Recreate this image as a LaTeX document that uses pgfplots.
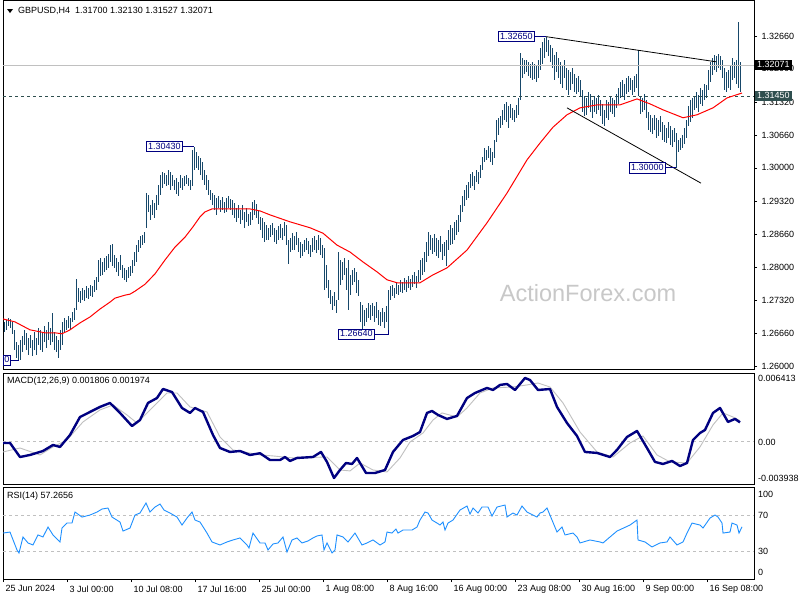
\documentclass[border=0pt]{standalone}
\usepackage{fontspec}
\setmainfont{Liberation Sans}
\usepackage{pgfplots}
\usepackage{pgfplotstable}
\pgfplotsset{compat=1.18}

\definecolor{barc}{HTML}{17486A}
\definecolor{navyc}{HTML}{000080}
\definecolor{sigc}{HTML}{C0C0C0}
\definecolor{rsic}{HTML}{1E90FF}
\definecolor{slate}{HTML}{2F4F4F}
\definecolor{wm}{HTML}{C8C8C8}
\newcommand\sm{\fontsize{9bp}{11bp}\selectfont}

% H4 bars: x (pixel column), low, high
\pgfplotstableread{
x lo hi
4 1.2669 1.2689
6 1.2673 1.2693
8 1.2681 1.2697
10 1.2677 1.2695
12 1.2665 1.2689
14 1.2632 1.2673
16 1.2616 1.2648
18 1.2612 1.2642
20 1.2612 1.2652
22 1.2628 1.2661
24 1.2642 1.2673
26 1.2632 1.2667
28 1.2622 1.2657
30 1.2636 1.2663
32 1.2620 1.2652
34 1.2632 1.2669
36 1.2622 1.2657
38 1.2642 1.2677
40 1.2632 1.2673
42 1.2628 1.2667
44 1.2648 1.2681
46 1.2636 1.2673
48 1.2652 1.2689
50 1.2642 1.2677
52 1.2648 1.2707
54 1.2632 1.2669
56 1.2628 1.2661
58 1.2616 1.2652
60 1.2632 1.2673
62 1.2642 1.2689
64 1.2669 1.2697
66 1.2673 1.2693
68 1.2677 1.2701
70 1.2673 1.2697
72 1.2689 1.2709
74 1.2693 1.2717
76 1.2713 1.2776
78 1.2729 1.2757
80 1.2727 1.2751
82 1.2733 1.2757
84 1.2731 1.2753
86 1.2737 1.2761
88 1.2735 1.2757
90 1.2741 1.2763
92 1.2739 1.2761
94 1.2749 1.2774
96 1.2753 1.2780
98 1.2770 1.2814
100 1.2782 1.2818
102 1.2784 1.2810
104 1.2790 1.2818
106 1.2794 1.2822
108 1.2798 1.2826
110 1.2810 1.2844
112 1.2802 1.2846
114 1.2798 1.2824
116 1.2790 1.2818
118 1.2782 1.2810
120 1.2794 1.2824
122 1.2778 1.2804
124 1.2774 1.2798
126 1.2770 1.2794
128 1.2778 1.2800
130 1.2782 1.2802
132 1.2788 1.2814
134 1.2802 1.2830
136 1.2810 1.2844
138 1.2830 1.2854
140 1.2838 1.2862
142 1.2844 1.2864
144 1.2848 1.2870
146 1.2879 1.2949
148 1.2911 1.2945
150 1.2895 1.2925
152 1.2905 1.2935
154 1.2899 1.2929
156 1.2915 1.2945
158 1.2925 1.2965
160 1.2945 1.2985
162 1.2959 1.2992
164 1.2967 1.2990
166 1.2963 1.2985
168 1.2965 1.2996
170 1.2955 1.2992
172 1.2963 1.2985
174 1.2955 1.2975
176 1.2947 1.2979
178 1.2943 1.2971
180 1.2959 1.2985
182 1.2955 1.2979
184 1.2963 1.2983
186 1.2967 1.2985
188 1.2963 1.2979
190 1.2955 1.2975
192 1.2963 1.3036
194 1.2996 1.3043
196 1.3000 1.3032
198 1.2996 1.3024
200 1.2985 1.3020
202 1.2975 1.3012
204 1.2965 1.2996
206 1.2955 1.2985
208 1.2945 1.2975
210 1.2935 1.2955
212 1.2925 1.2949
214 1.2915 1.2945
216 1.2905 1.2939
218 1.2919 1.2943
220 1.2911 1.2935
222 1.2915 1.2941
224 1.2909 1.2931
226 1.2911 1.2939
228 1.2919 1.2943
230 1.2915 1.2937
232 1.2905 1.2935
234 1.2899 1.2929
236 1.2891 1.2919
238 1.2899 1.2925
240 1.2887 1.2915
242 1.2895 1.2925
244 1.2879 1.2911
246 1.2891 1.2919
248 1.2883 1.2907
250 1.2885 1.2911
252 1.2895 1.2931
254 1.2905 1.2935
256 1.2899 1.2927
258 1.2887 1.2915
260 1.2874 1.2901
262 1.2858 1.2899
264 1.2850 1.2891
266 1.2854 1.2885
268 1.2854 1.2879
270 1.2860 1.2885
272 1.2864 1.2889
274 1.2850 1.2879
276 1.2846 1.2874
278 1.2854 1.2883
280 1.2858 1.2887
282 1.2854 1.2879
284 1.2862 1.2891
286 1.2844 1.2885
288 1.2806 1.2854
290 1.2830 1.2858
292 1.2834 1.2868
294 1.2834 1.2862
296 1.2844 1.2870
298 1.2830 1.2858
300 1.2818 1.2850
302 1.2822 1.2846
304 1.2830 1.2854
306 1.2834 1.2858
308 1.2826 1.2852
310 1.2820 1.2844
312 1.2830 1.2858
314 1.2834 1.2862
316 1.2828 1.2854
318 1.2834 1.2864
320 1.2824 1.2858
322 1.2818 1.2844
324 1.2753 1.2838
326 1.2757 1.2804
328 1.2737 1.2774
330 1.2725 1.2753
332 1.2713 1.2741
334 1.2721 1.2749
336 1.2707 1.2733
338 1.2733 1.2830
340 1.2763 1.2814
342 1.2774 1.2810
344 1.2784 1.2818
346 1.2753 1.2798
348 1.2713 1.2814
350 1.2743 1.2784
352 1.2763 1.2794
354 1.2770 1.2798
356 1.2747 1.2790
358 1.2741 1.2774
360 1.2689 1.2729
362 1.2664 1.2723
364 1.2681 1.2713
366 1.2689 1.2717
368 1.2697 1.2727
370 1.2693 1.2723
372 1.2701 1.2727
374 1.2689 1.2721
376 1.2697 1.2729
378 1.2683 1.2713
380 1.2681 1.2709
382 1.2689 1.2717
384 1.2677 1.2709
386 1.2689 1.2721
388 1.2673 1.2753
390 1.2733 1.2761
392 1.2741 1.2763
394 1.2737 1.2757
396 1.2745 1.2768
398 1.2743 1.2763
400 1.2749 1.2774
402 1.2747 1.2770
404 1.2753 1.2778
406 1.2749 1.2774
408 1.2757 1.2782
410 1.2753 1.2776
412 1.2759 1.2784
414 1.2765 1.2790
416 1.2757 1.2782
418 1.2770 1.2794
420 1.2774 1.2814
422 1.2784 1.2818
424 1.2790 1.2830
426 1.2810 1.2850
428 1.2822 1.2870
430 1.2834 1.2864
432 1.2826 1.2858
434 1.2830 1.2866
436 1.2822 1.2858
438 1.2818 1.2854
440 1.2830 1.2862
442 1.2814 1.2846
444 1.2822 1.2850
446 1.2802 1.2854
448 1.2834 1.2874
450 1.2844 1.2885
452 1.2846 1.2879
454 1.2854 1.2891
456 1.2864 1.2895
458 1.2870 1.2905
460 1.2891 1.2925
462 1.2911 1.2943
464 1.2923 1.2955
466 1.2935 1.2965
468 1.2939 1.2971
470 1.2959 1.2987
472 1.2963 1.2992
474 1.2955 1.2983
476 1.2971 1.2996
478 1.2967 1.2992
480 1.2979 1.3006
482 1.2996 1.3022
484 1.3012 1.3040
486 1.3016 1.3036
488 1.3020 1.3044
490 1.3012 1.3040
492 1.3006 1.3032
494 1.3020 1.3056
496 1.3052 1.3096
498 1.3066 1.3101
500 1.3080 1.3105
502 1.3086 1.3117
504 1.3096 1.3129
506 1.3092 1.3133
508 1.3080 1.3125
510 1.3101 1.3129
512 1.3096 1.3121
514 1.3092 1.3117
516 1.3101 1.3127
518 1.3107 1.3141
520 1.3137 1.3232
522 1.3181 1.3222
524 1.3189 1.3218
526 1.3193 1.3218
528 1.3185 1.3214
530 1.3181 1.3209
532 1.3177 1.3214
534 1.3179 1.3209
536 1.3173 1.3205
538 1.3181 1.3218
540 1.3197 1.3242
542 1.3209 1.3254
544 1.3222 1.3262
546 1.3234 1.3265
548 1.3226 1.3258
550 1.3214 1.3248
552 1.3201 1.3242
554 1.3177 1.3228
556 1.3193 1.3234
558 1.3181 1.3222
560 1.3169 1.3214
562 1.3161 1.3205
564 1.3181 1.3218
566 1.3157 1.3201
568 1.3147 1.3197
570 1.3157 1.3193
572 1.3169 1.3201
574 1.3153 1.3189
576 1.3149 1.3181
578 1.3153 1.3185
580 1.3143 1.3177
582 1.3113 1.3157
584 1.3105 1.3145
586 1.3107 1.3141
588 1.3121 1.3153
590 1.3113 1.3149
592 1.3101 1.3137
594 1.3113 1.3145
596 1.3109 1.3141
598 1.3117 1.3147
600 1.3105 1.3137
602 1.3088 1.3129
604 1.3084 1.3117
606 1.3101 1.3137
608 1.3096 1.3133
610 1.3113 1.3145
612 1.3109 1.3141
614 1.3103 1.3137
616 1.3121 1.3149
618 1.3129 1.3161
620 1.3141 1.3173
622 1.3145 1.3177
624 1.3137 1.3169
626 1.3149 1.3181
628 1.3153 1.3185
630 1.3157 1.3181
632 1.3147 1.3177
634 1.3153 1.3185
636 1.3161 1.3189
638 1.3145 1.3238
640 1.3109 1.3145
642 1.3113 1.3141
644 1.3117 1.3149
646 1.3101 1.3137
648 1.3076 1.3113
650 1.3072 1.3107
652 1.3068 1.3101
654 1.3076 1.3107
656 1.3060 1.3101
658 1.3064 1.3096
660 1.3072 1.3105
662 1.3056 1.3092
664 1.3052 1.3086
666 1.3050 1.3080
668 1.3060 1.3092
670 1.3046 1.3084
672 1.3042 1.3076
674 1.3052 1.3080
676 1.3000 1.3070
678 1.3032 1.3056
680 1.3036 1.3060
682 1.3040 1.3066
684 1.3048 1.3080
686 1.3060 1.3096
688 1.3084 1.3125
690 1.3092 1.3137
692 1.3101 1.3141
694 1.3117 1.3145
696 1.3121 1.3153
698 1.3113 1.3147
700 1.3129 1.3161
702 1.3125 1.3157
704 1.3137 1.3169
706 1.3141 1.3167
708 1.3157 1.3197
710 1.3173 1.3214
712 1.3187 1.3222
714 1.3197 1.3228
716 1.3193 1.3226
718 1.3201 1.3230
720 1.3197 1.3226
722 1.3181 1.3218
724 1.3157 1.3201
726 1.3153 1.3193
728 1.3161 1.3197
730 1.3157 1.3205
732 1.3177 1.3222
734 1.3181 1.3214
736 1.3169 1.3218
738 1.3161 1.3294
740 1.31527 1.32130
}\bars

\pgfplotsset{
  panel/.style={scale only axis, width=751bp, xmin=3, xmax=754,
    axis line style={black, line width=0.8bp}, xtick=\empty, ytick=\empty,
    tick label style={font=\sm}, tick style={black, line width=0.6bp},
    major tick length=3bp, tick align=outside},
}
\tikzset{
  pbox/.style={draw=navyc, fill=white, text=navyc, font=\sm, line width=0.8bp,
    inner xsep=2bp, inner ysep=1.2bp, text height=6.6bp, text depth=1.2bp},
}

\begin{document}
\begin{tikzpicture}
\useasboundingbox (0,0) rectangle (800bp,-600bp);
\fill[white] (0,0) rectangle (800bp,-600bp);
\node[text=wm, font=\fontsize{23.5bp}{26bp}\selectfont, inner sep=0] at (588bp,-293bp) {ActionForex.com};

% price panel
\begin{axis}[panel, at={(3bp,0bp)}, anchor=north west, height=369bp,
  ymin=1.259395, ymax=1.333865,
  ytick={1.26,1.2666,1.2732,1.28,1.2866,1.2932,1.30,1.3066,1.3132,1.32,1.3266},
  yticklabels={1.26000,1.26660,1.27320,1.28000,1.28660,1.29320,1.30000,1.30660,1.31320,1.32000,1.32660},
  ytick pos=right, yticklabel pos=right, yticklabel style={anchor=west, xshift=1bp}]
\addplot[draw=none, mark=none, forget plot,
  error bars/.cd, y dir=both, y explicit, error mark=none,
  error bar style={draw=barc, line width=1bp, solid}]
  table[x=x, y expr={(\thisrow{lo}+\thisrow{hi})/2}, y error expr={(\thisrow{hi}-\thisrow{lo})/2}] {\bars};
\addplot[sigc, line width=0.8bp] coordinates {(3,1.32071)(754,1.32071)};
\addplot[slate, line width=0.8bp, dash pattern=on 3bp off 3bp] coordinates {(3,1.3145)(754,1.3145)};
\addplot[red, line width=1bp] coordinates {
(3,1.2695)(15,1.2689)(30,1.2673)(45,1.2667)(55,1.2667)(62,1.2665)(70,1.2673)(80,1.2687)(90,1.2699)
(100,1.2715)(110,1.2729)(115,1.2737)(125,1.2743)(130,1.2745)(135,1.2751)(145,1.2765)(155,1.2786)
(165,1.2814)(175,1.2840)(185,1.2860)(193,1.2881)(200,1.2901)(205,1.2911)(212,1.2917)(230,1.2917)
(250,1.2917)(260,1.2913)(270,1.2905)(290,1.2891)(310,1.2879)(323,1.2868)(337,1.2844)(350,1.2830)
(363,1.2810)(377,1.2790)(387,1.2774)(397,1.2768)(410,1.2768)(420,1.2768)(433,1.2784)(447,1.2798)
(467,1.2834)(487,1.2889)(507,1.2949)(527,1.3016)(540,1.3050)(553,1.3082)(567,1.3107)(580,1.3121)
(597,1.3127)(620,1.3127)(637,1.3139)(650,1.3129)(663,1.3117)(683,1.3101)(697,1.3107)(713,1.3121)
(727,1.3141)(742,1.3151)};
\addplot[black, line width=0.8bp] coordinates {(545,1.3265)(716,1.3214)};
\addplot[black, line width=0.8bp] coordinates {(567,1.3121)(701,1.2969)};
\draw[navyc, line width=0.8bp] (axis cs:183,1.3043) -- (axis cs:194,1.3043);
\node[pbox, anchor=east] at (axis cs:183,1.3043) {1.30430};
\draw[navyc, line width=0.8bp] (axis cs:535,1.3265) -- (axis cs:546,1.3265);
\node[pbox, anchor=east] at (axis cs:535,1.3265) {1.32650};
\draw[navyc, line width=0.8bp] (axis cs:666,1.3000) -- (axis cs:676,1.3000);
\node[pbox, anchor=east] at (axis cs:666,1.3000) {1.30000};
\draw[navyc, line width=0.8bp] (axis cs:375,1.2664) -- (axis cs:388,1.2664) -- (axis cs:388,1.2673);
\node[pbox, anchor=east] at (axis cs:375,1.2664) {1.26640};
\draw[navyc, line width=0.8bp] (axis cs:9,1.2612) -- (axis cs:19,1.2612);
\node[pbox, anchor=west, inner xsep=1bp] at (axis cs:3,1.2612) {0};
\end{axis}

% MACD panel
\begin{axis}[panel, at={(3bp,-373bp)}, anchor=north west, height=111bp,
  ymin=-0.003938, ymax=0.006413]
\addplot[sigc, line width=0.8bp, dash pattern=on 3bp off 3bp] coordinates {(3,0)(754,0)};
\addplot[sigc, line width=0.9bp] coordinates {
(3,-0.00095)(20,-0.00058)(40,-0.00123)(53,-0.00048)(67,0.00017)(83,0.00185)(100,0.00297)(113,0.00343)
(127,0.00250)(137,0.00175)(150,0.00297)(167,0.00455)(177,0.00455)(190,0.00325)(207,0.00278)(220,0.00045)
(233,-0.00076)(260,-0.00123)(273,-0.00132)(293,-0.00151)(327,-0.00142)(340,-0.00263)(350,-0.00272)
(360,-0.00198)(373,-0.00263)(387,-0.00282)(400,-0.00151)(410,-0.00002)(423,0.00082)(433,0.00203)
(442,0.00269)(457,0.00231)(467,0.00315)(480,0.00455)(493,0.00502)(513,0.00511)(527,0.00530)(538,0.00548)
(550,0.00511)(563,0.00362)(580,0.00091)(597,-0.00095)(613,-0.00142)(630,-0.00011)(643,0.00054)
(657,-0.00123)(670,-0.00188)(687,-0.00198)(700,-0.00048)(713,0.00157)(723,0.00269)(733,0.00231)(740,0.00197)};
\addplot[navyc, line width=2.4bp, line join=round] coordinates {
(3,-0.00011)(10,-0.00011)(20,-0.00142)(30,-0.00123)(43,-0.00086)(53,-0.00030)(60,-0.00048)(70,0.00063)
(80,0.00231)(90,0.00278)(100,0.00325)(110,0.00362)(120,0.00269)(132,0.00147)(140,0.00203)(148,0.00362)
(157,0.00408)(163,0.00492)(172,0.00464)(182,0.00315)(190,0.00269)(195,0.00315)(203,0.00278)(213,0.00063)
(220,-0.00058)(230,-0.00095)(240,-0.00086)(250,-0.00123)(260,-0.00107)(270,-0.00170)(280,-0.00170)
(285,-0.00142)(290,-0.00179)(297,-0.00151)(313,-0.00142)(321,-0.00095)(327,-0.00188)(334,-0.00338)
(340,-0.00263)(346,-0.00198)(352,-0.00207)(357,-0.00151)(366,-0.00291)(375,-0.00291)(385,-0.00263)
(393,-0.00095)(403,0.00017)(413,0.00054)(420,0.00091)(427,0.00269)(432,0.00287)(438,0.00250)(447,0.00213)
(457,0.00241)(467,0.00408)(475,0.00455)(487,0.00502)(493,0.00483)(500,0.00530)(507,0.00539)(515,0.00483)
(525,0.00595)(530,0.00576)(538,0.00483)(550,0.00492)(557,0.00325)(567,0.00175)(577,0.00054)(585,-0.00095)
(597,-0.00104)(610,-0.00142)(617,-0.00076)(627,0.00045)(637,0.00101)(647,-0.00058)(655,-0.00188)
(663,-0.00207)(672,-0.00179)(680,-0.00226)(687,-0.00198)(693,0.00017)(700,0.00082)(705,0.00110)
(713,0.00269)(720,0.00315)(728,0.00185)(735,0.00213)(740,0.00181)};
\end{axis}

% RSI panel
\begin{axis}[panel, at={(3bp,-487bp)}, anchor=north west, height=92bp,
  ymin=0, ymax=101.1,
  xtick={3,67,131,195,259,323,387,451,515,579,643,707},
  xticklabels={25 Jun 2024,3 Jul 00:00,10 Jul 08:00,17 Jul 16:00,25 Jul 00:00,1 Aug 08:00,8 Aug 16:00,16 Aug 00:00,23 Aug 08:00,30 Aug 16:00,9 Sep 00:00,16 Sep 08:00},
  xtick pos=bottom, xticklabel style={anchor=north west, xshift=-1bp}]
\addplot[sigc, line width=0.8bp, dash pattern=on 3bp off 3bp] coordinates {(3,70)(754,70)};
\addplot[sigc, line width=0.8bp, dash pattern=on 3bp off 3bp] coordinates {(3,30)(754,30)};
\addplot[rsic, line width=0.9bp] coordinates {
(3,50.5)(10,51.6)(17,31.9)(19,28.6)(23,46.2)(28,39.6)(33,37.4)(38,48.4)(43,46.2)(48,57.1)(53,48.4)(60,40.7)
(62,56.0)(67,61.5)(72,61.5)(75,73.6)(82,68.1)(90,70.3)(97,73.6)(102,76.9)(108,78.0)(112,68.1)(120,62.6)
(123,52.7)(130,56.0)(135,70.3)(140,72.5)(146,83.5)(150,73.6)(155,79.1)(160,82.4)(164,75.8)(170,72.5)
(177,68.1)(182,59.3)(187,67.0)(192,73.6)(195,64.8)(200,62.6)(207,50.5)(212,40.7)(220,37.4)(227,40.7)
(233,42.9)(240,45.1)(247,37.4)(249,34.1)(253,50.5)(260,39.6)(265,39.6)(268,31.9)(273,38.5)(278,39.6)
(283,46.2)(287,29.7)(292,42.9)(297,45.1)(302,39.6)(308,41.8)(313,45.1)(317,47.3)(322,48.4)(324,31.9)
(327,39.6)(332,28.6)(335,31.9)(337,48.4)(343,46.2)(348,40.7)(355,50.5)(362,37.4)(367,39.6)(373,42.9)
(380,37.4)(385,40.7)(387,51.6)(392,50.5)(396,54.9)(398,50.5)(403,53.8)(412,53.8)(417,57.1)(420,64.8)
(425,73.6)(428,72.5)(432,64.8)(437,61.5)(440,59.3)(443,62.6)(445,53.8)(448,61.5)(453,64.8)(460,75.8)
(467,80.2)(470,71.4)(473,78.0)(478,72.5)(482,79.1)(488,79.1)(492,69.2)(497,79.1)(505,81.3)(507,68.1)
(513,72.5)(517,70.3)(522,80.2)(527,73.6)(537,68.1)(540,72.5)(543,73.6)(547,78.0)(552,64.8)(557,51.6)
(562,57.1)(565,48.4)(573,50.5)(577,46.2)(580,39.6)(590,42.9)(600,40.7)(603,39.6)(610,46.2)(617,52.7)
(630,59.3)(637,64.8)(638,42.9)(645,40.7)(652,35.2)(660,39.6)(667,40.7)(670,46.2)(677,37.4)(683,40.7)
(687,50.5)(692,61.5)(700,59.3)(703,56.0)(710,67.0)(715,70.3)(718,68.1)(722,61.5)(723,50.5)(730,51.6)
(732,61.5)(737,59.3)(739,50.5)(742,57.3)};
\end{axis}

% titles and right-hand labels
\fill (7bp,-9bp) -- (13bp,-9bp) -- (10bp,-13bp) -- cycle;
\node[font=\sm, anchor=west, inner sep=0] at (18bp,-11bp) {GBPUSD,H4\ \ 1.31700 1.32130 1.31527 1.32071};
\node[font=\sm, anchor=west, inner sep=0] at (7bp,-381bp) {MACD(12,26,9) 0.001806 0.001974};
\node[font=\sm, anchor=west, inner sep=0] at (7bp,-496bp) {RSI(14) 57.2656};
\node[font=\sm, fill=black, text=white, anchor=west, inner xsep=2bp, inner ysep=1.2bp, text height=6.6bp, text depth=1.2bp] at (755bp,-65bp) {1.32071};
\node[font=\sm, fill=slate, text=white, anchor=west, inner xsep=2bp, inner ysep=1.2bp, text height=6.6bp, text depth=1.2bp] at (755bp,-96bp) {1.31450};
\node[font=\sm, anchor=west, inner sep=0] at (758bp,-378bp) {0.006413};
\node[font=\sm, anchor=west, inner sep=0] at (758bp,-442bp) {0.00};
\node[font=\sm, anchor=west, inner sep=0] at (758bp,-478bp) {-0.003938};
\node[font=\sm, anchor=west, inner sep=0] at (758bp,-494bp) {100};
\node[font=\sm, anchor=west, inner sep=0] at (758bp,-515bp) {70};
\node[font=\sm, anchor=west, inner sep=0] at (758bp,-551bp) {30};
\node[font=\sm, anchor=west, inner sep=0] at (758bp,-572bp) {0};
\end{tikzpicture}
\end{document}
